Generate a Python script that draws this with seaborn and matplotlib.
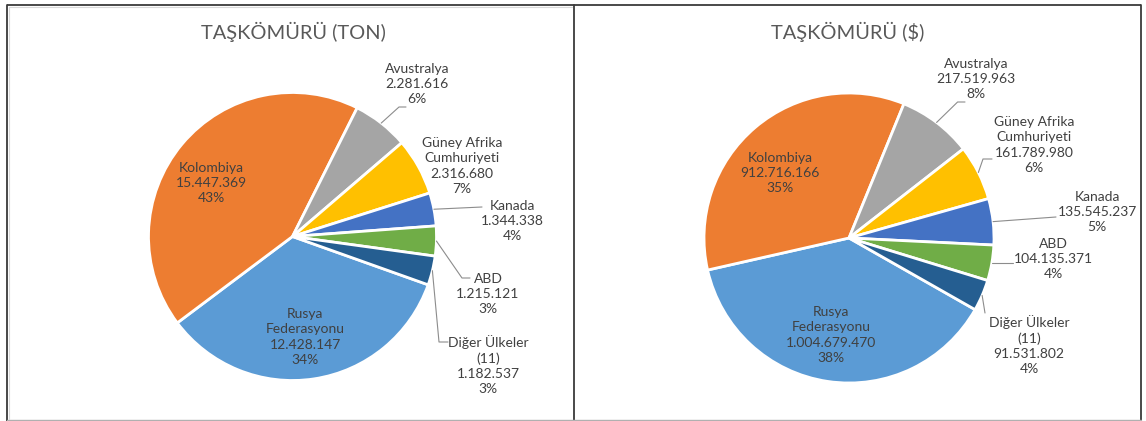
import matplotlib
matplotlib.use("Agg")
import numpy as np
import matplotlib.pyplot as plt
import seaborn as sns

# ---------------- data ----------------
countries = ["Rusya\nFederasyonu", "Kolombiya", "Avustralya",
             "Güney Afrika\nCumhuriyeti", "Kanada", "ABD", "Diğer Ülkeler\n(11)"]
ton_values = [12428147, 15447369, 2281616, 2316680, 1344338, 1215121, 1182537]
usd_values = [1004679470, 912716166, 217519963, 161789980, 135545237, 104135371, 91531802]
titles = ["TAŞKÖMÜRÜ (TON)", "TAŞKÖMÜRÜ ($)"]

# ---------------- style ----------------
sns.set_theme(style="white")
plt.rcParams['font.family'] = ['Lato', 'DejaVu Sans']
colors = ["#5B9BD5", "#ED7D31", "#A5A5A5", "#FFC000", "#4472C4", "#70AD47", "#255E91"]
LABEL_COLOR = "#404040"
TITLE_COLOR = "#595959"
LEADER_COLOR = "#8C8C8C"

W, H = 1146, 421
fig = plt.figure(figsize=(W / 100, H / 100), dpi=100)

# background axes in pixel coordinates for the frames
bg = fig.add_axes([0, 0, 1, 1])
bg.set_xlim(0, W)
bg.set_ylim(H, 0)
bg.axis("off")
bg.plot([7, 1141], [4.5, 4.5], color="#3a3a3a", lw=1.3, solid_capstyle="butt")
bg.plot([7, 7], [4.5, 421], color="#3a3a3a", lw=1.3)
bg.plot([574, 574], [4.5, 421], color="#3a3a3a", lw=1.3)
bg.plot([1141, 1141], [4.5, 421], color="#3a3a3a", lw=1.3)
bg.plot([7, 1141], [420, 420], color="#b0b0b0", lw=1.0)
bg.plot([9, 572], [7, 7], color="#d9d9d9", lw=0.8)
bg.plot([9, 9], [7, 419], color="#d9d9d9", lw=0.8)


def fmt_thousands(v):
    return f"{v:,}".replace(",", ".")


def excel_percents(vals):
    vals = np.asarray(vals, dtype=float)
    p = vals / vals.sum() * 100
    fl = np.floor(p).astype(int)
    rem = p - fl
    short = 100 - fl.sum()
    order = np.argsort(-rem)
    fl[order[:short]] += 1
    return fl


panels = [
    dict(values=ton_values, title=titles[0], cx=292.5, cy=236.5, r=144, start=-19.6,
         title_xy=(293, 32),
         label_xy=[(305, 337), (211, 183), (417, 84), (462, 166), (512, 221), (488, 294), (488, 365)],
         leaders={2: [(406, 107), (399, 107)], 4: [(482, 207)],
                  5: [(470, 278), (462, 278)], 6: [(448, 342), (439, 342)]}),
    dict(values=usd_values, title=titles[1], cx=849, cy=238, r=145, start=-29.6,
         title_xy=(848, 32),
         label_xy=[(831, 335), (780, 173), (976, 79), (1034, 145), (1097, 212), (1053, 259), (1029, 345)],
         leaders={2: [(965, 102), (957.6, 102)], 3: [(992, 159), (983, 159)],
                  4: [(1056, 217)], 5: [(1013, 263)], 6: [(985, 313)]}),
]

for pnl in panels:
    cx, cy, r = pnl["cx"], pnl["cy"], pnl["r"]
    ax = fig.add_axes([(cx - r) / W, (H - cy - r) / H, 2 * r / W, 2 * r / H])
    wedges, _ = ax.pie(pnl["values"], colors=colors, startangle=pnl["start"],
                       counterclock=False, radius=1.0,
                       wedgeprops=dict(edgecolor="white", linewidth=2))
    ax.set_xlim(-1, 1)
    ax.set_ylim(-1, 1)
    ax.set_aspect("equal")
    ax.axis("off")

    def px2d(px, py):
        return ((px - cx) / r, (cy - py) / r)

    pcts = excel_percents(pnl["values"])
    for i, (name, val, pct) in enumerate(zip(countries, pnl["values"], pcts)):
        txt = f"{name}\n{fmt_thousands(val)}\n{pct}%"
        x, y = px2d(*pnl["label_xy"][i])
        ax.text(x, y, txt, ha="center", va="center", multialignment="center",
                fontsize=10, color=LABEL_COLOR, linespacing=1.33, clip_on=False)
        if i in pnl["leaders"]:
            w = wedges[i]
            mid = np.deg2rad((w.theta1 + w.theta2) / 2)
            pts = [px2d(*p) for p in pnl["leaders"][i]] + [(np.cos(mid), np.sin(mid))]
            xs, ys = zip(*pts)
            ax.plot(xs, ys, color=LEADER_COLOR, lw=0.8, clip_on=False)

    tx, ty = pnl["title_xy"]
    bg.text(tx, ty, pnl["title"], ha="center", va="center", fontsize=14.4, color=TITLE_COLOR)

fig.savefig("out.png", dpi=100)
